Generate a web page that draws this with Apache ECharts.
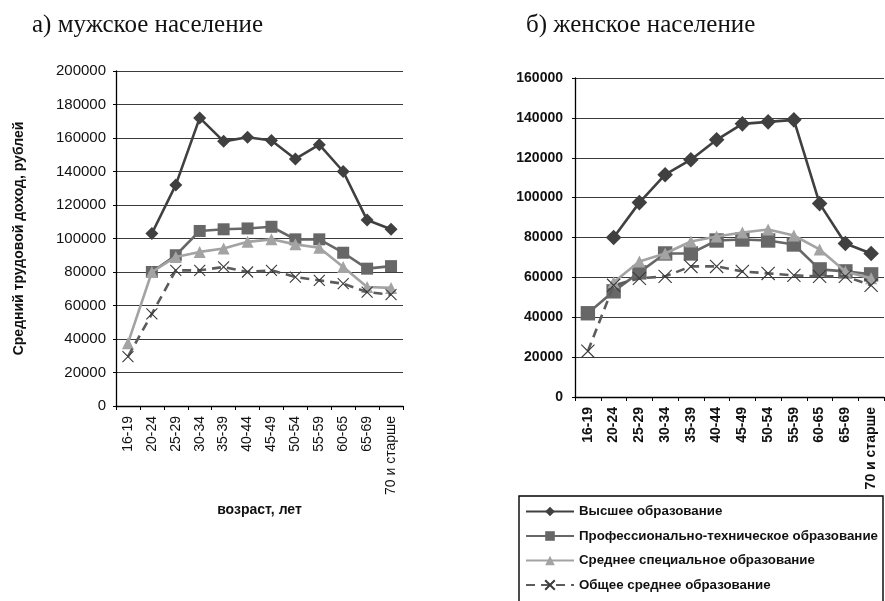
<!DOCTYPE html>
<html>
<head>
<meta charset="utf-8">
<script src="https://cdn.jsdelivr.net/npm/echarts@6/dist/echarts.min.js"></script>
<style>html,body{margin:0;padding:0;background:#fff}#c{width:885px;height:601px}</style>
</head>
<body>
<div id="c"></div>
<script>
var categories = ['16-19','20-24','25-29','30-34','35-39','40-44','45-49','50-54','55-59','60-65','65-69','70 и старше'];
var seriesNames = ['Высшее образование','Профессионально-техническое образование','Среднее специальное образование','Общее среднее образование'];

var maleHigher = [null,103000,132000,172000,158000,160500,158500,147500,156000,140000,111000,105500];
var maleProf   = [null,80000,90000,104500,105500,106000,107000,99500,99500,91500,82000,83500];
var maleSpec   = [37500,80000,89000,92000,94000,98000,99500,96500,94500,83000,71000,70500];
var maleGen    = [29500,55000,81000,81000,83000,80000,81000,77000,75000,73000,68000,66500];

var femHigher = [null,80000,97500,111500,119000,129000,137000,138000,139000,97000,77000,72000];
var femProf   = [42000,53000,62500,72000,72000,78500,79000,78500,76500,64000,63000,61500];
var femSpec   = [null,57500,68000,72000,78000,80500,82500,84000,81000,74000,63000,59500];
var femGen    = [23000,56000,59500,60500,65500,65500,63000,62000,61000,60500,60500,56000];

var maleYTicks = {min:0, max:200000, interval:20000};
var femYTicks = {min:0, max:160000, interval:20000};

var SANS = 'Liberation Sans, Arial, sans-serif';
var SERIF = 'Liberation Serif, Times New Roman, serif';
var XSYM = 'path://M0,0L10,10M10,0L0,10';
function plain(v){ return String(v); }

function makeSeries(idx, vals, big) {
  var s = big ? 1.2 : 1;
  var styles = [
    {color:'#404040', symbol:'diamond', size:13*s, type:'solid'},
    {color:'#676767', symbol:'rect', size:12*s, type:'solid'},
    {color:'#a3a3a3', symbol:'triangle', size:12, type:'solid'},
    {color:'#5c5c5c', symbol:XSYM, size:11*s, type:[9,6]}
  ];
  var st = styles[idx];
  var ser = {
    type:'line', name:seriesNames[idx], xAxisIndex: big?1:0, yAxisIndex: big?1:0,
    data: vals, symbol: st.symbol, symbolSize: st.size, showSymbol:true,
    connectNulls:false, silent:true, z: 2+idx,
    lineStyle:{color:st.color, width:2.6, type:st.type},
    itemStyle:{color:st.color}
  };
  if (idx === 3) {
    ser.itemStyle = {color:'rgba(0,0,0,0)', borderColor:'#3a3a3a', borderWidth:1.1};
  }
  return ser;
}

var yGrid = {show:true, lineStyle:{color:'#3a3a3a', width:1.2}};
var chart = echarts.init(document.getElementById('c'), null, {renderer:'canvas'});
chart.setOption({
  animation:false,
  backgroundColor:'#fff',
  title:[
    {text:'а) мужское население', left:32, top:13, padding:0, textStyle:{fontFamily:SERIF, fontSize:25, fontWeight:'normal', color:'#111'}},
    {text:'б) женское население', left:526, top:13, padding:0, textStyle:{fontFamily:SERIF, fontSize:25, fontWeight:'normal', color:'#111'}}
  ],
  grid:[
    {left:116, right:482, top:71, bottom:195},
    {left:575, right:1, top:78, bottom:204}
  ],
  xAxis:[
    {type:'category', gridIndex:0, data:categories, boundaryGap:true,
     axisLine:{lineStyle:{color:'#000', width:1.3}}, axisTick:{show:true, length:4, lineStyle:{color:'#000'}},
     axisLabel:{rotate:90, interval:0, margin:10, fontFamily:SANS, fontSize:14, color:'#111'},
     name:'возраст, лет', nameLocation:'middle', nameGap:80,
     nameTextStyle:{fontFamily:SANS, fontSize:14, fontWeight:'bold', color:'#111'}},
    {type:'category', gridIndex:1, data:categories, boundaryGap:true,
     axisLine:{lineStyle:{color:'#000', width:1.3}}, axisTick:{show:true, length:4, lineStyle:{color:'#000'}},
     axisLabel:{rotate:90, interval:0, margin:10, fontFamily:SANS, fontSize:14, fontWeight:'bold', color:'#111'}}
  ],
  yAxis:[
    {type:'value', gridIndex:0, min:maleYTicks.min, max:maleYTicks.max, interval:maleYTicks.interval,
     axisLine:{show:true, lineStyle:{color:'#000', width:1.3}}, axisTick:{show:true, length:3, lineStyle:{color:'#000'}},
     splitLine:yGrid,
     axisLabel:{margin:10, fontFamily:SANS, fontSize:15, color:'#111', formatter:plain},
     name:'Средний трудовой доход, рублей', nameLocation:'middle', nameGap:90,
     nameTextStyle:{fontFamily:SANS, fontSize:14, fontWeight:'bold', color:'#111'}},
    {type:'value', gridIndex:1, min:femYTicks.min, max:femYTicks.max, interval:femYTicks.interval,
     axisLine:{show:true, lineStyle:{color:'#000', width:1.3}}, axisTick:{show:true, length:3, lineStyle:{color:'#000'}},
     splitLine:yGrid,
     axisLabel:{margin:12, fontFamily:SANS, fontSize:14, fontWeight:'bold', color:'#111', formatter:plain}}
  ],
  legend:{
    orient:'vertical', left:525, top:505, padding:0,
    itemWidth:48, itemHeight:12, itemGap:11.5,
    data:seriesNames,
    selectedMode:false,
    textStyle:{fontFamily:SANS, fontSize:13.3, fontWeight:'bold', color:'#111'}
  },
  graphic:[
    {type:'rect', shape:{x:519, y:496, width:364, height:140}, style:{fill:'none', stroke:'#000', lineWidth:1.4}, silent:true}
  ],
  series:[
    makeSeries(0, maleHigher, false), makeSeries(1, maleProf, false), makeSeries(2, maleSpec, false), makeSeries(3, maleGen, false),
    makeSeries(0, femHigher, true), makeSeries(1, femProf, true), makeSeries(2, femSpec, true), makeSeries(3, femGen, true)
  ]
});
</script>
</body>
</html>
